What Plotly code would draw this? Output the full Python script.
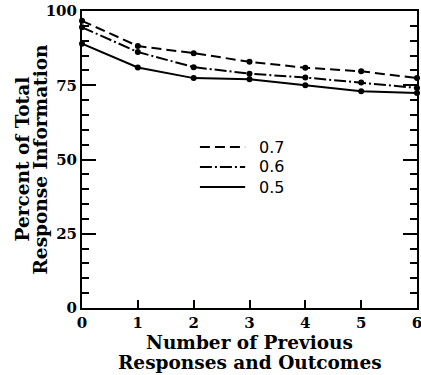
import plotly.graph_objects as go

x_vals = [0, 1, 2, 3, 4, 5, 6]
series_names = ["0.7", "0.6", "0.5"]
y_07 = [96.7, 88.2, 85.8, 82.9, 80.9, 79.7, 77.4]
y_06 = [94.5, 86.2, 81.1, 78.9, 77.6, 75.9, 74.1]
y_05 = [89.0, 81.0, 77.4, 77.0, 75.0, 73.0, 72.4]
x_title_lines = ["Number of Previous", "Responses and Outcomes"]
y_title_lines = ["Percent of Total", "Response Information"]

FONT = "DejaVu Serif"
dashes = ["10px,5px", "12px,3px,2px,3px", "solid"]
series = [y_07, y_06, y_05]

# key (legend) placement, in paper fractions of the plot area
key_x0, key_x1, key_text_x = 0.352, 0.487, 0.522
key_ys = [0.542, 0.475, 0.407]

fig = go.Figure()
for name, ys, d in zip(series_names, series, dashes):
    fig.add_trace(go.Scatter(
        x=x_vals, y=ys, mode="lines+markers", name=name, showlegend=False,
        line=dict(color="black", width=2, dash=d),
        marker=dict(color="black", size=6),
        cliponaxis=False,
    ))

for name, d, ky in zip(series_names, dashes, key_ys):
    fig.add_shape(type="line", xref="paper", yref="paper",
                  x0=key_x0, x1=key_x1, y0=ky, y1=ky,
                  line=dict(color="black", width=2, dash=d))
    fig.add_annotation(xref="paper", yref="paper", x=key_text_x, y=ky,
                       text=name, showarrow=False, xanchor="left",
                       yanchor="middle",
                       font=dict(family="DejaVu Sans", size=16, color="black"))

title_font = dict(family=FONT, size=18.5, weight="bold", color="black")
for line, ys in zip(x_title_lines, [-34, -54]):
    fig.add_annotation(xref="paper", yref="paper", x=0.5, y=0, yshift=ys,
                       text=line, showarrow=False, xanchor="center",
                       yanchor="middle", font=title_font)
for line, xs in zip(y_title_lines, [-60, -42]):
    fig.add_annotation(xref="paper", yref="paper", x=0, y=0.5, xshift=xs,
                       text=line, showarrow=False, textangle=-90,
                       xanchor="center", yanchor="middle", font=title_font)

fig.update_layout(
    width=421, height=375,
    margin=dict(l=82, r=4, t=11, b=67, autoexpand=False),
    paper_bgcolor="white", plot_bgcolor="white",
    font=dict(family=FONT, size=16, color="black"),
    showlegend=False,
    xaxis=dict(
        range=[0, 6], tick0=0, dtick=1, ticks="inside", ticklen=8,
        tickwidth=1.5, tickcolor="black", showline=True, linecolor="black",
        linewidth=2, mirror=True, showgrid=False, zeroline=False,
        automargin=False, ticklabeloverflow="allow",
        tickfont=dict(size=15, weight="bold"),
    ),
    yaxis=dict(
        range=[0, 100], tick0=0, dtick=25, ticks="inside", ticklen=14,
        tickwidth=1.5, tickcolor="black", showline=True, linecolor="black",
        linewidth=2, mirror="ticks", showgrid=False, zeroline=False,
        automargin=False,
        tickfont=dict(size=15, weight="bold"),
        minor=dict(dtick=5, ticks="inside", ticklen=7, tickwidth=1.5,
                   tickcolor="black", showgrid=False),
    ),
)

fig.write_html(
    "out.html",
    config={"displayModeBar": False},
    post_script="document.body.style.margin='0';document.body.style.padding='0';",
)
